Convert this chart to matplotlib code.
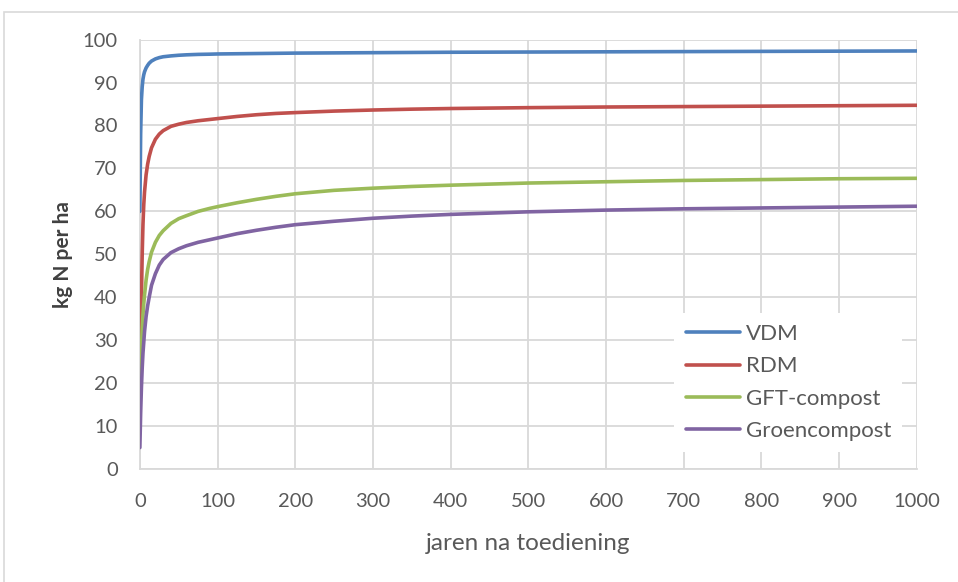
import matplotlib.pyplot as plt
from matplotlib.patches import Rectangle

# jaren na toediening en werkzame N (kg N per ha)
jaren = [0, 1, 2, 3, 4, 5, 6, 8, 10, 12, 15, 20, 25, 30, 40, 50, 60, 75, 90,
         100, 125, 150, 175, 200, 250, 300, 350, 400, 500, 600, 700, 800, 900, 1000]
vdm = [60, 78, 86, 89, 90.8, 91.8, 92.5, 93.4, 94, 94.5, 95, 95.5, 95.8, 96.0,
       96.2, 96.35, 96.45, 96.55, 96.6, 96.65, 96.7, 96.75, 96.8, 96.85, 96.9,
       96.95, 97.0, 97.05, 97.1, 97.15, 97.2, 97.25, 97.3, 97.35]
rdm = [20, 30, 40, 50, 57, 61.5, 64.5, 68.5, 71, 72.8, 74.8, 76.8, 78, 78.8,
       79.8, 80.3, 80.7, 81.1, 81.4, 81.6, 82.1, 82.5, 82.8, 83.0, 83.35, 83.6,
       83.8, 83.95, 84.15, 84.3, 84.4, 84.5, 84.6, 84.7]
gft = [15, 22, 28, 32.5, 36, 38.5, 40.5, 44, 46.5, 48.3, 50.5, 52.8, 54.4, 55.5,
       57.2, 58.3, 59.0, 60.0, 60.7, 61.1, 62.0, 62.8, 63.5, 64.1, 64.9, 65.4,
       65.8, 66.1, 66.6, 66.9, 67.2, 67.4, 67.6, 67.7]
groen = [5, 13, 19, 23.5, 27, 29.5, 32, 35.5, 38, 40, 42.8, 45.5, 47.5, 48.8,
         50.4, 51.3, 52.0, 52.8, 53.4, 53.8, 54.8, 55.6, 56.3, 56.9, 57.7, 58.4,
         58.9, 59.3, 59.9, 60.3, 60.6, 60.8, 61.0, 61.2]

namen = ['VDM', 'RDM', 'GFT-compost', 'Groencompost']
kleuren = ['#4F81BD', '#C0504D', '#9BBB59', '#8064A2']

plt.rcParams['font.family'] = ['Lato', 'DejaVu Sans']
grijs = '#595959'

fig = plt.figure(figsize=(9.58, 5.82), dpi=100)
ax = fig.add_axes([0.146, 0.194, 0.811, 0.738])

for reeks, naam, kleur in zip([vdm, rdm, gft, groen], namen, kleuren):
    ax.plot(jaren, reeks, color=kleur, lw=2.6, label=naam,
            solid_capstyle='round', solid_joinstyle='round', zorder=3)

ax.set_xlim(0, 1000)
ax.set_ylim(0, 100)
ax.set_xticks(range(0, 1001, 100))
ax.set_yticks(range(0, 101, 10))
ax.grid(True, color='#d9d9d9', lw=1.3)
ax.set_axisbelow(True)
ax.tick_params(length=0, labelsize=14.5, colors=grijs)
ax.tick_params(axis='x', pad=17)
ax.tick_params(axis='y', pad=16)
for s in ['top', 'right']:
    ax.spines[s].set_visible(False)
for s in ['left', 'bottom']:
    ax.spines[s].set_color('#d9d9d9')
    ax.spines[s].set_linewidth(1.3)

ax.set_xlabel('jaren na toediening', fontsize=17.5, color=grijs, labelpad=17)
ax.set_ylabel('kg N per ha', fontsize=15, color='#404040', fontweight='bold',
              labelpad=7)

leg = ax.legend(loc='lower right', bbox_to_anchor=(0.981, 0.04), frameon=True,
                fontsize=16, handlelength=2.45, labelspacing=0.55,
                borderpad=0.5, handletextpad=0.25, borderaxespad=0)
leg.get_frame().set_facecolor('white')
leg.get_frame().set_edgecolor('none')
leg.get_frame().set_alpha(1)
leg.get_frame().set_boxstyle('square', pad=0)
for t in leg.get_texts():
    t.set_color(grijs)

# rand van het grafiekgebied
fig.patches.append(Rectangle((4 / 958, -0.1), 1.1, 1.1 - 12 / 582,
                             transform=fig.transFigure, fill=False,
                             edgecolor='#d9d9d9', lw=1.2))

fig.savefig('out.png', dpi=100)
